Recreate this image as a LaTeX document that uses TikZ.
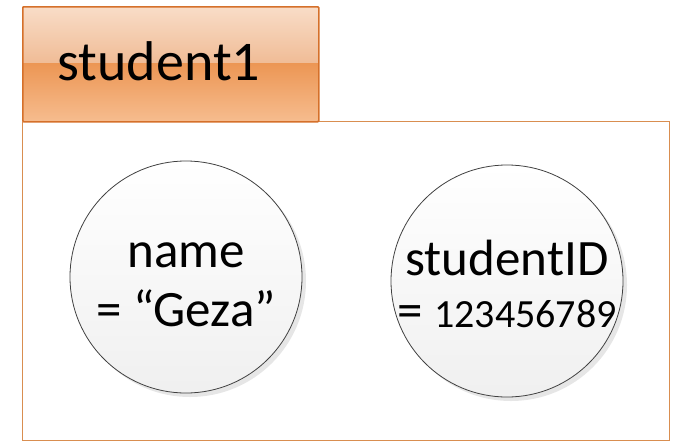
\documentclass[tikz,border=0pt]{standalone}
\usepackage{fontspec}
\setmainfont{Carlito}
\usetikzlibrary{positioning}
\usetikzlibrary{shadows}

\definecolor{tabline}{HTML}{D5702A}
\definecolor{frameline}{HTML}{D98E50}
\definecolor{tabtop}{HTML}{F9DDC8}
\definecolor{tabmid}{HTML}{F0BC96}
\definecolor{tablow}{HTML}{EC9654}
\definecolor{tabbot}{HTML}{F6BC8E}

\begin{document}
\begin{tikzpicture}[x=1pt, y=-1pt,
    attr/.style = {circle, draw=black!75, line width=.8pt, minimum size=232pt, inner sep=0pt,
        top color=white, bottom color=black!6,
        drop shadow={shadow xshift=4pt, shadow yshift=-4pt, opacity=.2, fill=black!50}},
    attrtext/.style = {align=center, font=\fontsize{51}{59}\selectfont}]
    \useasboundingbox (0,0) rectangle (676,442);
    % object frame
    \node[draw=frameline, line width=.8pt, minimum width=647pt, minimum height=319pt,
        anchor=north west, inner sep=0pt] (frame) at (22,121) {};
    % title tab
    \shade[top color=tabtop, bottom color=tabmid] (22,6) rectangle (318,63);
    \shade[top color=tablow, bottom color=tabbot] (22,63) rectangle (318,121);
    \node[draw=tabline, line width=1.6pt, minimum width=296pt, minimum height=115pt,
        anchor=north west, inner sep=0pt, rounded corners=1pt] (tab) at (22,6) {};
    \node[font=\fontsize{56}{66}\selectfont, anchor=base west] (title) at (54,80) {student1};
    % attributes
    \node[attr] (name) at (186,277) {};
    \node[attrtext, anchor=base] (nameval) at (186,326) {name\\= “Geza”};
    \node[attr] (id) at (507,281) {};
    \node[attrtext, anchor=base, font=\fontsize{51}{52}\selectfont] (idval) at (507,327)
        {studentID\\= {\fontsize{40}{46}\selectfont 123456789}};
\end{tikzpicture}
\end{document}
